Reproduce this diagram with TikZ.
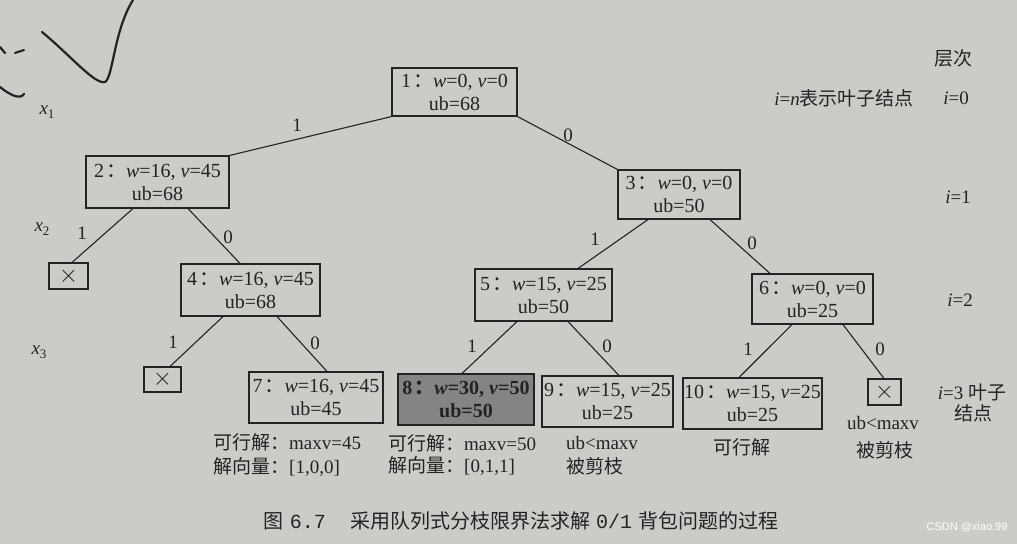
\documentclass[tikz,border=0pt]{standalone}
\usepackage{fontspec}
\setmainfont{Liberation Serif}
\newfontfamily\cjk{Noto Sans CJK SC}
\newfontfamily\capmono{Liberation Mono}
\newfontfamily\wmfont{Liberation Sans}
\definecolor{paper}{RGB}{203,203,199}
\definecolor{ink}{RGB}{35,35,35}
\definecolor{shade}{RGB}{132,132,130}
\newcommand{\zh}[1]{{\cjk #1}}
\newcommand{\nodetext}[4]{#1\hspace{2pt}\zh{：}\textit{w}=#2, \textit{v}=#3\\ub=#4}
\newcommand{\crossmark}{{\fontsize{26}{26}\selectfont$\times$}}
\begin{document}
\begin{tikzpicture}[x=1pt,y=-1pt,font=\fontsize{19}{23}\selectfont,
  box/.style={draw=ink, line width=1.1pt, align=center, inner sep=0pt, text=ink, font=\fontsize{20}{23}\selectfont},
  edge/.style={draw=ink, line width=1.1pt},
  lab/.style={text=ink, inner sep=0pt},
  pen/.style={draw=ink, line width=2.2pt, line cap=round}]
\fill[paper] (0,0) rectangle (1017,544);
\useasboundingbox (0,0) rectangle (1017,544);
% stray pen marks
\draw[pen] (42,32) .. controls (70,55) and (95,85) .. (105,82) .. controls (113,78) and (114,30) .. (133,0);
\draw[pen] (0,47) -- (5,53);
\draw[pen] (15,53) -- (24,50);
\draw[pen] (0,87) .. controls (10,95) and (20,100) .. (24,94);
% nodes
\node[box, minimum width=125pt, minimum height=48pt] (n1) at (454.5,92) {\nodetext{1}{0}{0}{68}};
\node[box, minimum width=143pt, minimum height=52pt] (n2) at (157.5,182) {\nodetext{2}{16}{45}{68}};
\node[box, minimum width=122pt, minimum height=49pt] (n3) at (679,194.5) {\nodetext{3}{0}{0}{50}};
\node[box, minimum width=39pt, minimum height=26pt] (xa) at (68.5,276) {\crossmark};
\node[box, minimum width=139pt, minimum height=52pt] (n4) at (250.5,290) {\nodetext{4}{16}{45}{68}};
\node[box, minimum width=137pt, minimum height=52pt] (n5) at (543.5,295) {\nodetext{5}{15}{25}{50}};
\node[box, minimum width=121pt, minimum height=50pt] (n6) at (812.5,299) {\nodetext{6}{0}{0}{25}};
\node[box, minimum width=37pt, minimum height=25pt] (xb) at (162.5,379.5) {\crossmark};
\node[box, minimum width=134pt, minimum height=51pt] (n7) at (316,397.5) {\nodetext{7}{16}{45}{45}};
\node[box, fill=shade, minimum width=136pt, minimum height=51pt, font=\fontsize{20}{23}\selectfont\bfseries] (n8) at (466,399.5) {\nodetext{8}{30}{50}{50}};
\node[box, minimum width=131pt, minimum height=51pt] (n9) at (607.5,401.5) {\nodetext{9}{15}{25}{25}};
\node[box, minimum width=139pt, minimum height=51pt] (n10) at (752.5,403.5) {\nodetext{10}{15}{25}{25}};
\node[box, minimum width=33pt, minimum height=26pt] (xc) at (884.5,392) {\crossmark};
% edges
\draw[edge] (n1.south west) -- (n2.north east);
\draw[edge] (n1.south east) -- (n3.north west);
\draw[edge] ([xshift=-24.5pt]n2.south) -- ([xshift=3.5pt]xa.north);
\draw[edge] ([xshift=30.5pt]n2.south) -- ([xshift=-10.5pt]n4.north);
\draw[edge] ([xshift=-31pt]n3.south) -- ([xshift=34.5pt]n5.north);
\draw[edge] ([xshift=31pt]n3.south) -- ([xshift=-42.5pt]n6.north);
\draw[edge] ([xshift=-27.5pt]n4.south) -- ([xshift=7.5pt]xb.north);
\draw[edge] ([xshift=26.5pt]n4.south) -- ([xshift=11pt]n7.north);
\draw[edge] ([xshift=-26.5pt]n5.south) -- ([xshift=-4pt]n8.north);
\draw[edge] ([xshift=24.5pt]n5.south) -- ([xshift=11.5pt]n9.north);
\draw[edge] ([xshift=-20.5pt]n6.south) -- ([xshift=-13.5pt]n10.north);
\draw[edge] ([xshift=30.5pt]n6.south) -- ([xshift=-0.5pt]xc.north);
% edge labels
\node[lab] (l12) at (297,125) {1};
\node[lab] (l13) at (568,135) {0};
\node[lab] (l2a) at (82,233) {1};
\node[lab] (l24) at (228,237) {0};
\node[lab] (l35) at (595,239) {1};
\node[lab] (l36) at (752,243) {0};
\node[lab] (l4b) at (173,342) {1};
\node[lab] (l47) at (315,343) {0};
\node[lab] (l58) at (472,346) {1};
\node[lab] (l59) at (607,346) {0};
\node[lab] (l610) at (748,349) {1};
\node[lab] (l6c) at (880,349) {0};
% level variables
\node[lab] (x1) at (47,112) {\textit{x}\raisebox{-4pt}{\fontsize{13}{13}\selectfont 1}};
\node[lab] (x2) at (42,229) {\textit{x}\raisebox{-4pt}{\fontsize{13}{13}\selectfont 2}};
\node[lab] (x3) at (39,352) {\textit{x}\raisebox{-4pt}{\fontsize{13}{13}\selectfont 3}};
% right column
\node[lab] (lv) at (953,58) {\zh{层次}};
\node[lab] (note) at (844,98) {\textit{i}=\textit{n}\zh{表示叶子结点}};
\node[lab] (i0) at (956,98) {\textit{i}=0};
\node[lab] (i1) at (958,197) {\textit{i}=1};
\node[lab] (i2) at (960,300) {\textit{i}=2};
\node[lab] (i3) at (972,392) {\textit{i}=3 \zh{叶子}};
\node[lab] (i3b) at (973,413) {\zh{结点}};
% annotations
\node[lab, anchor=west] (a7) at (213,442) {\zh{可行解：}maxv=45};
\node[lab, anchor=west] (b7) at (213,467) {\zh{解向量：}[1,0,0]};
\node[lab, anchor=west] (a8) at (388,443) {\zh{可行解：}maxv=50};
\node[lab, anchor=west] (b8) at (388,466) {\zh{解向量：}[0,1,1]};
\node[lab] (a9) at (602,443) {ub<maxv};
\node[lab] (b9) at (595,466) {\zh{被剪枝}};
\node[lab] (a10) at (742,447) {\zh{可行解}};
\node[lab] (ac) at (883,423) {ub<maxv};
\node[lab] (bc) at (885,450) {\zh{被剪枝}};
% caption
\node[lab] (cap) at (521,521) {\fontsize{20}{24}\selectfont\zh{图}\hspace{6pt}{\capmono 6.7}\hspace{24pt}\zh{采用队列式分枝限界法求解}\hspace{6pt}{\capmono 0/1}\hspace{6pt}\zh{背包问题的过程}};
\node[text=white, inner sep=0pt, font=\fontsize{11}{12}\wmfont] (wm) at (967,527) {CSDN @xiao.99};
\end{tikzpicture}
\end{document}
